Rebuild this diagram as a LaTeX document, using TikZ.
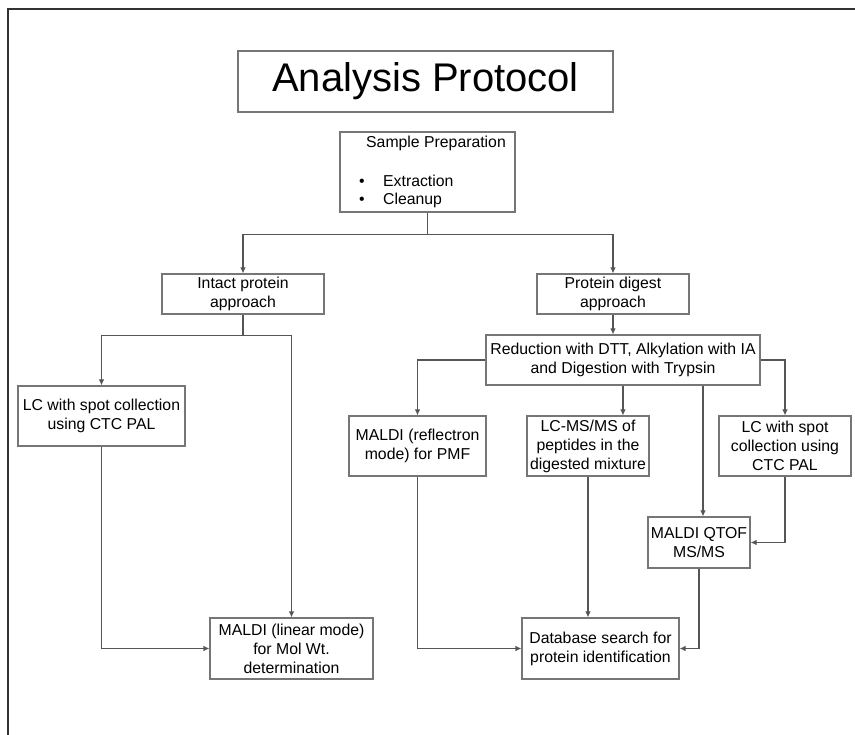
\documentclass[tikz,border=0pt]{standalone}
\usepackage{fontspec}
\setmainfont{Liberation Sans}
\usetikzlibrary{arrows.meta}

\definecolor{boxline}{RGB}{118,118,118}
\definecolor{linkline}{RGB}{85,85,85}
\definecolor{frameline}{RGB}{50,50,50}

\tikzset{
  stepbox/.style={draw=boxline, line width=1.1pt, fill=white, inner sep=0pt,
    align=center, text=black, font=\fontsize{15.8}{19}\selectfont},
  plain/.style={inner sep=0pt, text=black, font=\fontsize{15.8}{19}\selectfont},
  link/.style={draw=linkline, line width=1.1pt},
  arr/.style={link, -{Latex[length=6pt,width=5.5pt]}},
  frame/.style={draw=frameline, line width=1.3pt}
}

\begin{document}
\begin{tikzpicture}[x=1pt, y=-1pt]
  \useasboundingbox (0,0) rectangle (855,735);
  \fill[white] (0,0) rectangle (855,735);

  % page frame (top and left rules)
  \coordinate (ftl) at (8,9);
  \coordinate (ftr) at (855,9);
  \coordinate (fbl) at (8,735);
  \draw[frame] (ftr) -- (ftl) -- (fbl);

  % title
  \node[stepbox, minimum width=375pt, minimum height=61pt,
        font=\fontsize{40}{48}\selectfont] (title) at (425.5,81.5) {Analysis Protocol};

  % sample preparation box with its own text layout
  \node[stepbox, minimum width=175pt, minimum height=80pt] (sample) at (427.5,172) {};
  \node[plain, anchor=base west] (sptitle) at (366,148) {Sample Preparation};
  \node[plain, anchor=base west] (spa) at (359,187) {\makebox[24pt][l]{•}Extraction};
  \node[plain, anchor=base west] (spb) at (359,205) {\makebox[24pt][l]{•}Cleanup};

  % two approaches
  \node[stepbox, minimum width=162pt, minimum height=40pt] (intact) at (243,294) {Intact protein\\approach};
  \node[stepbox, minimum width=152pt, minimum height=40pt] (digest) at (613,294) {Protein digest\\approach};

  % digest preparation
  \node[stepbox, minimum width=274pt, minimum height=50pt] (reduction) at (623,360)
    {Reduction with DTT, Alkylation with IA\\and Digestion with Trypsin};

  % separation / analysis steps
  \node[stepbox, minimum width=167pt, minimum height=60pt] (lcl) at (101.5,416) {LC with spot collection\\using CTC PAL};
  \node[stepbox, minimum width=137pt, minimum height=60pt] (reflect) at (417.5,446) {MALDI (reflectron\\mode) for PMF};
  \node[stepbox, minimum width=122pt, minimum height=60pt] (lcms) at (588,446) {LC-MS/MS of\\peptides in the\\digested mixture};
  \node[stepbox, minimum width=132pt, minimum height=60pt] (lcr) at (785,446) {LC with spot\\collection using\\CTC PAL};
  \node[stepbox, minimum width=102pt, minimum height=51pt] (qtof) at (699,542.5) {MALDI QTOF\\MS/MS};

  % final outputs
  \node[stepbox, minimum width=163pt, minimum height=61pt] (linear) at (291.5,648.5) {MALDI (linear mode)\\for Mol Wt.\\determination};
  \node[stepbox, minimum width=157pt, minimum height=61pt] (database) at (600.5,648.5) {Database search for\\protein identification};

  % connectors
  \draw[link] (sample.south) -- ++(0,22) coordinate (split);
  \draw[arr] (split) -| (intact.north);
  \draw[arr] (split) -| (digest.north);

  \draw[link] (intact.south) -- ++(0,21) coordinate (isplit);
  \draw[arr] (isplit) -| (lcl.north);
  \draw[arr] (isplit) -| (linear.north);
  \draw[arr] (lcl.south) |- (linear.west);

  \draw[arr] (digest.south) -- (digest.south |- reduction.north);
  \draw[arr] (reduction.west) -| (reflect.north);
  \draw[arr] (reduction.south) -- (reduction.south |- lcms.north);
  \coordinate (qin) at ([xshift=4pt]qtof.north);
  \draw[arr] (reduction.south -| qin) -- (qin);
  \draw[arr] (reduction.east) -| (lcr.north);

  \draw[arr] (lcr.south) |- (qtof.east);
  \draw[arr] (reflect.south) |- (database.west);
  \draw[arr] (lcms.south) -- (lcms.south |- database.north);
  \draw[arr] (qtof.south) |- (database.east);
\end{tikzpicture}
\end{document}
